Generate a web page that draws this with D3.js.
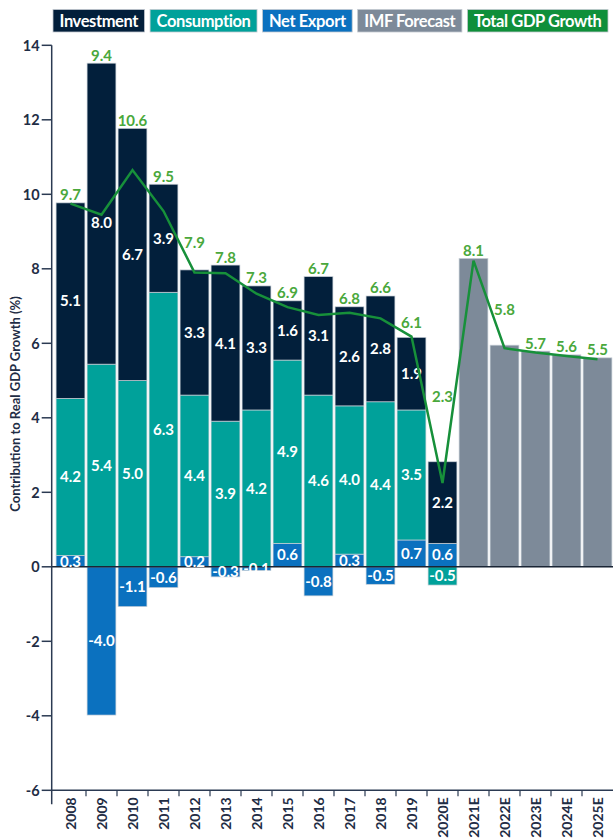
<!DOCTYPE html>
<html>
<head>
<meta charset="utf-8">
<script src="https://cdn.jsdelivr.net/npm/d3@7"></script>
<style>
  html, body { margin: 0; padding: 0; background: #ffffff; }
  svg { display: block; font-family: Lato, "Open Sans", sans-serif; }
</style>
</head>
<body>
<svg id="chart" width="613" height="839"></svg>
<script>
// ---------- data ----------
const years = ["2008","2009","2010","2011","2012","2013","2014","2015","2016","2017","2018","2019","2020E","2021E","2022E","2023E","2024E","2025E"];
const histYears = years.slice(0, 13);
const forecastYears = years.slice(13);

const investment  = [5.25, 8.08, 6.77, 2.90, 3.36, 4.19, 3.33, 1.59, 3.18, 2.66, 2.84, 1.95, 2.19];
const consumption = [4.22, 5.44, 5.00, 7.37, 4.34, 3.91, 4.21, 4.92, 4.61, 3.98, 4.43, 3.49, -0.49];
const netExport   = [0.30, -3.98, -1.07, -0.56, 0.27, -0.27, -0.10, 0.63, -0.78, 0.34, -0.47, 0.72, 0.63];
const imfForecast = [8.28, 5.95, 5.79, 5.69, 5.61];
const totalGrowth = [9.75, 9.45, 10.65, 9.55, 7.90, 7.88, 7.33, 6.97, 6.76, 6.82, 6.67, 6.18, 2.25, 8.22, 5.87, 5.75, 5.66, 5.57];

const investmentLabels  = ["5.1","8.0","6.7","3.9","3.3","4.1","3.3","1.6","3.1","2.6","2.8","1.9","2.2"];
const consumptionLabels = ["4.2","5.4","5.0","6.3","4.4","3.9","4.2","4.9","4.6","4.0","4.4","3.5","-0.5"];
const netExportLabels   = ["0.3","-4.0","-1.1","-0.6","0.2","-0.3","-0.1","0.6","-0.8","0.3","-0.5","0.7","0.6"];
const totalLabels       = ["9.7","9.4","10.6","9.5","7.9","7.8","7.3","6.9","6.7","6.8","6.6","6.1","2.3","8.1","5.8","5.7","5.6","5.5"];

const yTicks = [-6, -4, -2, 0, 2, 4, 6, 8, 10, 12, 14];
const legendItems = ["Investment", "Consumption", "Net Export", "IMF Forecast", "Total GDP Growth"];

// ---------- styles ----------
const colors = {
  "Investment": "#021f3b",
  "Consumption": "#00a19a",
  "Net Export": "#0b71bf",
  "IMF Forecast": "#7d8a99",
  "Total GDP Growth": "#0f8f3a"
};
const lineColor = "#17903a";
const totalLabelColor = "#4aa83c";
const axisColor = "#2b3a52";
const textDark = "#1f2d45";

const svg = d3.select("#chart");

// ---------- scales ----------
const x = d3.scaleBand().domain(years).range([55, 613]).paddingInner(0.07).paddingOuter(0.035);
const y = d3.scaleLinear().domain([-6, 14]).range([790.3, 45.3]);
const axisX = 51.7;

// ---------- stacked data ----------
const keys = ["Net Export", "Consumption", "Investment"];
const rows = histYears.map((yr, i) => ({
  year: yr,
  "Net Export": netExport[i],
  "Consumption": consumption[i],
  "Investment": investment[i]
}));
const labelMap = { "Net Export": netExportLabels, "Consumption": consumptionLabels, "Investment": investmentLabels };
const series = d3.stack().keys(keys).offset(d3.stackOffsetDiverging)(rows);

// ---------- bars ----------
const barG = svg.append("g");
series.forEach(s => {
  barG.selectAll(null).data(s).enter().append("rect")
    .attr("x", d => x(d.data.year))
    .attr("width", x.bandwidth())
    .attr("y", d => y(Math.max(d[0], d[1])))
    .attr("height", d => Math.abs(y(d[0]) - y(d[1])))
    .attr("fill", colors[s.key])
    .attr("stroke", "#c9d0d8")
    .attr("stroke-width", 0.7);
});
barG.selectAll(null).data(forecastYears).enter().append("rect")
  .attr("x", d => x(d))
  .attr("width", x.bandwidth())
  .attr("y", (d, i) => y(imfForecast[i]))
  .attr("height", (d, i) => y(0) - y(imfForecast[i]))
  .attr("fill", colors["IMF Forecast"])
  .attr("stroke", "#c9d0d8")
  .attr("stroke-width", 0.7);

// ---------- axes ----------
const axG = svg.append("g");
axG.append("line")
  .attr("x1", axisX).attr("x2", 613)
  .attr("y1", y(0)).attr("y2", y(0))
  .attr("stroke", "#1a2535").attr("stroke-width", 1.5);
axG.append("line")
  .attr("x1", axisX).attr("x2", 613)
  .attr("y1", y(-6)).attr("y2", y(-6))
  .attr("stroke", axisColor).attr("stroke-width", 1.5);
const boundaries = years.slice(0, -1).map(d => x(d) + x.bandwidth() + x.step() * x.paddingInner() / 2);
axG.selectAll(null).data(boundaries).enter().append("line")
  .attr("x1", d => d).attr("x2", d => d)
  .attr("y1", y(-6)).attr("y2", y(-6) + 6)
  .attr("stroke", axisColor).attr("stroke-width", 1.2);
axG.append("line")
  .attr("x1", axisX).attr("x2", axisX)
  .attr("y1", y(14)).attr("y2", y(-6) + 14)
  .attr("stroke", axisColor).attr("stroke-width", 1.5);
axG.selectAll(null).data(yTicks).enter().append("line")
  .attr("x1", axisX - 10).attr("x2", axisX)
  .attr("y1", d => y(d)).attr("y2", d => y(d))
  .attr("stroke", axisColor).attr("stroke-width", 1.5);
axG.selectAll(null).data(yTicks).enter().append("text")
  .attr("x", axisX - 12).attr("y", d => y(d))
  .attr("dy", "0.36em")
  .attr("text-anchor", "end")
  .attr("font-size", 14.5).attr("font-weight", 700).attr("fill", textDark)
  .text(d => d);
axG.selectAll(null).data(years).enter().append("text")
  .attr("transform", d => `translate(${x(d) + x.bandwidth() / 2},${y(-6) + 7}) rotate(-90)`)
  .attr("dy", "0.36em")
  .attr("text-anchor", "end")
  .attr("font-size", 14).attr("font-weight", 700).attr("fill", textDark)
  .text(d => d);
svg.append("text")
  .attr("transform", `translate(15,${404}) rotate(-90)`)
  .attr("dy", "0.36em")
  .attr("text-anchor", "middle")
  .attr("font-size", 13).attr("font-weight", 700).attr("fill", textDark)
  .text("Contribution to Real GDP Growth (%)");

// ---------- total growth line ----------
const cx = d => x(d) + x.bandwidth() / 2;
const pts = years.map((yr, i) => [cx(yr), y(totalGrowth[i])]);

function lineYAt(px) {
  if (px <= pts[0][0]) return pts[0][1];
  if (px >= pts[pts.length - 1][0]) return pts[pts.length - 1][1];
  for (let i = 0; i < pts.length - 1; i++) {
    if (px >= pts[i][0] && px <= pts[i + 1][0]) {
      const t = (px - pts[i][0]) / (pts[i + 1][0] - pts[i][0]);
      return pts[i][1] + t * (pts[i + 1][1] - pts[i][1]);
    }
  }
  return pts[0][1];
}

// ---------- segment labels ----------
const segG = svg.append("g")
  .attr("font-size", 15).attr("font-weight", 700).attr("fill", "#ffffff")
  .attr("text-anchor", "middle");
series.forEach(s => {
  segG.selectAll(null).data(s).enter().append("text")
    .attr("x", d => cx(d.data.year))
    .attr("y", d => {
      let ly = (y(d[0]) + y(d[1])) / 2;
      const ly0 = lineYAt(cx(d.data.year));
      if (Math.abs(ly - ly0) < 8) ly = ly0 + 8; // keep clear of the growth line
      return ly;
    })
    .attr("dy", "0.36em")
    .text((d, i) => labelMap[s.key][i]);
});

svg.append("path")
  .attr("d", d3.line()(pts))
  .attr("fill", "none")
  .attr("stroke", lineColor)
  .attr("stroke-width", 2.5)
  .attr("stroke-linejoin", "miter");

const barTops = years.map((yr, i) => {
  if (i < histYears.length) {
    const pos = [netExport[i], consumption[i], investment[i]].filter(v => v > 0).reduce((a, b) => a + b, 0);
    return y(pos);
  }
  return y(imfForecast[i - histYears.length]);
});

// ---------- total labels ----------
svg.append("g").selectAll(null).data(years).enter().append("text")
  .attr("x", d => cx(d))
  .attr("y", (d, i) => {
    const c = cx(d);
    const m = Math.min(barTops[i], lineYAt(c - 11), lineYAt(c), lineYAt(c + 11));
    return m - 2.5;
  })
  .attr("text-anchor", "middle")
  .attr("font-size", 15).attr("font-weight", 700).attr("fill", totalLabelColor)
  .text((d, i) => totalLabels[i]);

// ---------- legend ----------
const legG = svg.append("g");
const legStart = 53, legEnd = 608, legGap = 5.5;
const legTexts = legendItems.map(name => {
  const g = legG.append("g");
  const rect = g.append("rect").attr("y", 9.5).attr("height", 22.5)
    .attr("fill", colors[name]).attr("stroke", "#c3c9d0").attr("stroke-width", 0.8);
  const t = g.append("text").attr("y", 20.8).attr("dy", "0.36em")
    .attr("font-size", 16.5).attr("font-weight", 700).attr("fill", "#ffffff")
    .attr("letter-spacing", -0.4)
    .text(name);
  return { rect, t, w: t.node().getComputedTextLength() };
});
const sumW = d3.sum(legTexts, d => d.w);
const pad = Math.max(3, (legEnd - legStart - legGap * (legendItems.length - 1) - sumW) / (2 * legendItems.length));
let lx = legStart;
legTexts.forEach(d => {
  d.rect.attr("x", lx).attr("width", d.w + 2 * pad);
  d.t.attr("x", lx + pad);
  lx += d.w + 2 * pad + legGap;
});
</script>
</body>
</html>
